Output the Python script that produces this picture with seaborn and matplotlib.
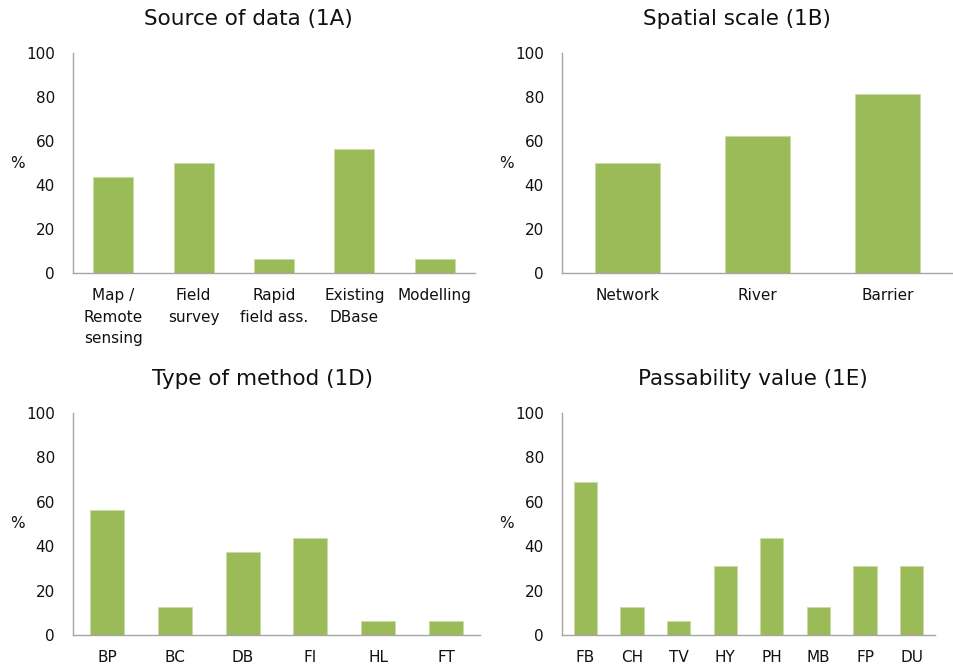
import matplotlib
matplotlib.use("Agg")
import matplotlib.pyplot as plt
import seaborn as sns
import pandas as pd

# Survey results, share of studies (%)
source_cats = ["Map /\nRemote\nsensing", "Field\nsurvey", "Rapid\nfield ass.", "Existing\nDBase", "Modelling"]
source_vals = [43.75, 50.0, 6.25, 56.25, 6.25]

scale_cats = ["Network", "River", "Barrier"]
scale_vals = [50.0, 62.5, 81.25]

method_cats = ["BP", "BC", "DB", "FI", "HL", "FT"]
method_vals = [56.25, 12.5, 37.5, 43.75, 6.25, 6.25]

pass_cats = ["FB", "CH", "TV", "HY", "PH", "MB", "FP", "DU"]
pass_vals = [68.75, 12.5, 6.25, 31.25, 43.75, 12.5, 31.25, 31.25]

y_ticks = [0, 20, 40, 60, 80, 100]

sns.set_style("white")
plt.rcParams["font.family"] = ["DejaVu Sans"]
plt.rcParams["text.color"] = "#111111"

BAR = "#9bbb59"
SPINE = "#a6a6a6"
TXT = "#111111"
W, H = 954, 666

fig = plt.figure(figsize=(W / 100, H / 100), dpi=100)

# panel boxes in pixels: left, top, right, bottom ; title centre x
panels = [
    ("Source of data (1A)", source_cats, source_vals, (73, 53, 475, 273), 248),
    ("Spatial scale (1B)", scale_cats, scale_vals, (562, 53, 953, 273), 737),
    ("Type of method (1D)", method_cats, method_vals, (73, 413, 480, 635), 263),
    ("Passability value (1E)", pass_cats, pass_vals, (562, 413, 935, 635), 753),
]

for title, cats, vals, (l, t, r, b), tx in panels:
    ax = fig.add_axes([l / W, 1 - b / H, (r - l) / W, (b - t) / H])
    df = pd.DataFrame({"cat": cats, "val": vals})
    sns.barplot(data=df, x="cat", y="val", color=BAR, saturation=1,
                width=0.5, edgecolor="#c9dba6", linewidth=0.6, ax=ax)
    n = len(cats)
    ax.set_xlim(-0.5, n - 0.5)
    ax.set_ylim(0, 100)
    ax.set_yticks(y_ticks)
    ax.set_yticklabels([str(v) for v in y_ticks], fontsize=11, color=TXT)

    # category labels centred, tick marks on category boundaries
    ax.set_xticks(range(n))
    ax.set_xticklabels(cats, fontsize=11, linespacing=1.55, va="top", color=TXT)
    ax.tick_params(axis="x", which="major", length=0, pad=11)
    ax.set_xticks([i - 0.5 for i in range(n + 1)], minor=True)
    ax.tick_params(axis="x", which="minor", length=3.6, width=1, color=SPINE, direction="out")
    ax.tick_params(axis="y", length=3.6, width=1, color=SPINE, direction="out", pad=9.5)

    for s in ["top", "right"]:
        ax.spines[s].set_visible(False)
    for s in ["left", "bottom"]:
        ax.spines[s].set_color(SPINE)
        ax.spines[s].set_linewidth(1)

    ax.set_xlabel("")
    ax.set_ylabel("%", rotation=0, fontsize=11, va="center", ha="center", color=TXT)
    ax.yaxis.set_label_coords(-56 / (r - l), 0.5)

    ax.set_title(title, fontsize=15.5, x=(tx - l) / (r - l), pad=20, color=TXT)

fig.savefig("out.png", dpi=100)
